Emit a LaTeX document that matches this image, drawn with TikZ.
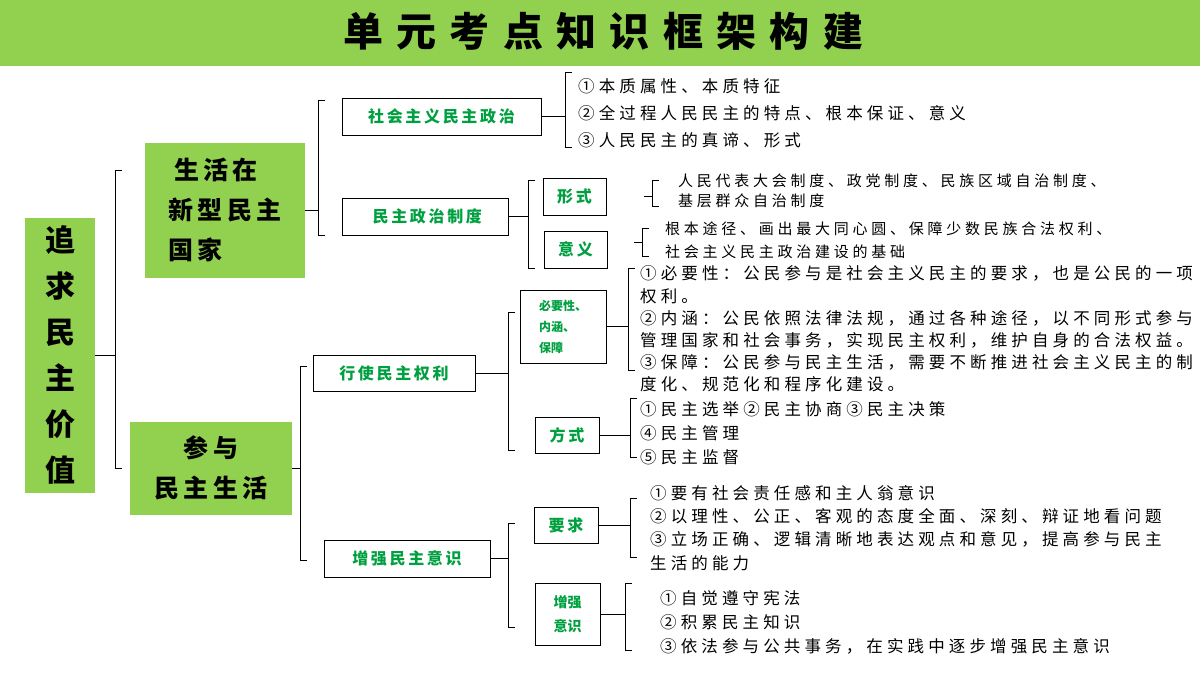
\documentclass[tikz,border=0pt]{standalone}
\usepackage{fontspec}
\setmainfont{Noto Sans CJK SC}
\newfontfamily\spacedcjk[LetterSpace=25]{Noto Sans CJK SC}
\definecolor{lg}{HTML}{92D050}
\definecolor{tg}{HTML}{00A040}
\newcommand\brak[3]{\draw[line width=0.9pt] (#1+7,#2)--(#1,#2)--(#1,#3)--(#1+7,#3);}
\begin{document}
\begin{tikzpicture}[x=1pt,y=-1pt,
  gbox/.style={fill=lg,inner sep=0pt},
  wbox/.style={draw,line width=0.9pt,text=tg,font=\fontsize{16}{20}\selectfont\bfseries,inner sep=0pt},
  txt/.style={anchor=west,font=\spacedcjk\fontsize{16.5}{22}\selectfont,inner sep=0pt},
  tick/.style={line width=0.9pt}]
\useasboundingbox (0,0) rectangle (1200,675);
\fill[lg] (0,0) rectangle (1200,66);
\node[font=\fontsize{40}{40}\selectfont\bfseries] (title) at (603,31) {单\,\,元\,\,考\,\,点\,\,知\,\,识\,\,框\,\,架\,\,构\,\,建};
% root
\node[gbox,minimum width=70,minimum height=275,font=\fontsize{30}{46}\selectfont\bfseries,align=center] (root) at (60,355) {追\\求\\民\\主\\价\\值};
\node[gbox,minimum width=160,minimum height=135,font=\fontsize{25}{40}\selectfont\bfseries,align=left] (a) at (225,210) {\ 生\,活\,在\\新\,型\,民\,主\\国\,家\hspace{3em}};
\node[gbox,minimum width=162,minimum height=93,font=\fontsize{25}{40}\selectfont\bfseries,align=center] (b) at (211,468) {参\,与\\民\,主\,生\,活};
\draw[tick] (root.east) -- (root.east -| 115,0);
\brak{115}{170}{468}
% a branch
\node[wbox,minimum width=199,minimum height=37] (a1) at (441.5,116.5) {社\,会\,主\,义\,民\,主\,政\,治};
\node[wbox,minimum width=166,minimum height=37,anchor=west] (a2) at (342,216.5) {\ 民\,主\,政\,治\,制\,度};
\draw[tick] (a.east) -- (a.east -| 318,0);
\brak{318}{100}{235}
\draw[tick] (a1.east) -- (a1.east -| 565,0);
\brak{565}{72}{147}
\node[txt] (a11) at (578,86) {①本质属性、本质特征};
\node[txt] (a12) at (578,113) {②全过程人民民主的特点、根本保证、意义};
\node[txt] (a13) at (578,140) {③人民民主的真谛、形式};
\draw[tick] (a2.east) -- (a2.east -| 528,0);
\brak{528}{180}{268}
\node[wbox,minimum width=63,minimum height=37] (f) at (574.5,196.5) {形\,式};
\node[wbox,minimum width=63,minimum height=37] (y) at (575.5,249.5) {意\,义};
\brak{652}{180}{206}
\draw[tick] (f.east) ++(38,0) -- ++(8,0);
\node[txt,font=\spacedcjk\fontsize{15}{22}\selectfont] (f1) at (678,181) {人民代表大会制度、政党制度、民族区域自治制度、};
\node[txt,font=\spacedcjk\fontsize{15}{22}\selectfont] (f2) at (678,201) {基层群众自治制度};
\brak{642}{228}{256}
\draw[tick] (y.east) ++(27,-7) -- ++(8,0);
\node[txt,font=\spacedcjk\fontsize{15}{22}\selectfont] (y1) at (665,229) {根本途径、画出最大同心圆、保障少数民族合法权利、};
\node[txt,font=\spacedcjk\fontsize{15}{22}\selectfont] (y2) at (665,252) {社会主义民主政治建设的基础};
% b branch
\draw[tick] (b.east) -- (b.east -| 300,0);
\brak{300}{366}{560}
\node[wbox,minimum width=162,minimum height=36] (b1) at (394,373) {行\,使\,民\,主\,权\,利};
\node[wbox,minimum width=166,minimum height=37] (b2) at (407,558.5) {增\,强\,民\,主\,意\,识};
\draw[tick] (b1.east) -- (b1.east -| 508,0);
\brak{508}{312}{450}
\node[wbox,minimum width=86,minimum height=73,font=\fontsize{12}{21}\selectfont\bfseries,align=left] (n) at (563,326.5) {必要性、\\内涵、\hspace{1.3em}\\保障\hspace{2.3em}};
\node[wbox,minimum width=64,minimum height=36] (m) at (567,435) {方\,式};
\draw[tick] (n.east) -- (n.east -| 628,0);
\brak{628}{268}{370}
\node[txt] at (640,273) {①必要性：公民参与是社会主义民主的要求，也是公民的一项};
\node[txt] at (640,296) {权利。};
\node[txt] at (640,318) {②内涵：公民依照法律法规，通过各种途径，以不同形式参与};
\node[txt] at (640,340) {管理国家和社会事务，实现民主权利，维护自身的合法权益。};
\node[txt] at (640,362) {③保障：公民参与民主生活，需要不断推进社会主义民主的制};
\node[txt] at (640,384) {度化、规范化和程序化建设。};
\draw[tick] (m.east) -- (m.east -| 630,0);
\brak{630}{398}{457}
\node[txt] at (640,409) {①民主选举②民主协商③民主决策};
\node[txt] at (640,433) {④民主管理};
\node[txt] at (640,457) {⑤民主监督};
\draw[tick] (b2.east) -- (b2.east -| 508,0);
\brak{508}{523}{627}
\node[wbox,minimum width=64,minimum height=36] (r) at (566,525) {要\,求};
\node[wbox,minimum width=65,minimum height=62,align=center,font=\fontsize{14}{24}\selectfont\bfseries] (z) at (567.5,614) {增强\\意识};
\draw[tick] (r.east) -- (r.east -| 630,0);
\brak{630}{498}{557}
\node[txt] at (650,493) {①要有社会责任感和主人翁意识};
\node[txt] at (650,516) {②以理性、公正、客观的态度全面、深刻、辩证地看问题};
\node[txt] at (650,539) {③立场正确、逻辑清晰地表达观点和意见，提高参与民主};
\node[txt] at (650,563) {生活的能力};
\draw[tick] (z.east) -- (z.east -| 625,0);
\brak{625}{583}{650}
\node[txt] at (660,598) {①自觉遵守宪法};
\node[txt] at (660,622) {②积累民主知识};
\node[txt] at (660,646) {③依法参与公共事务，在实践中逐步增强民主意识};
\end{tikzpicture}
\end{document}
